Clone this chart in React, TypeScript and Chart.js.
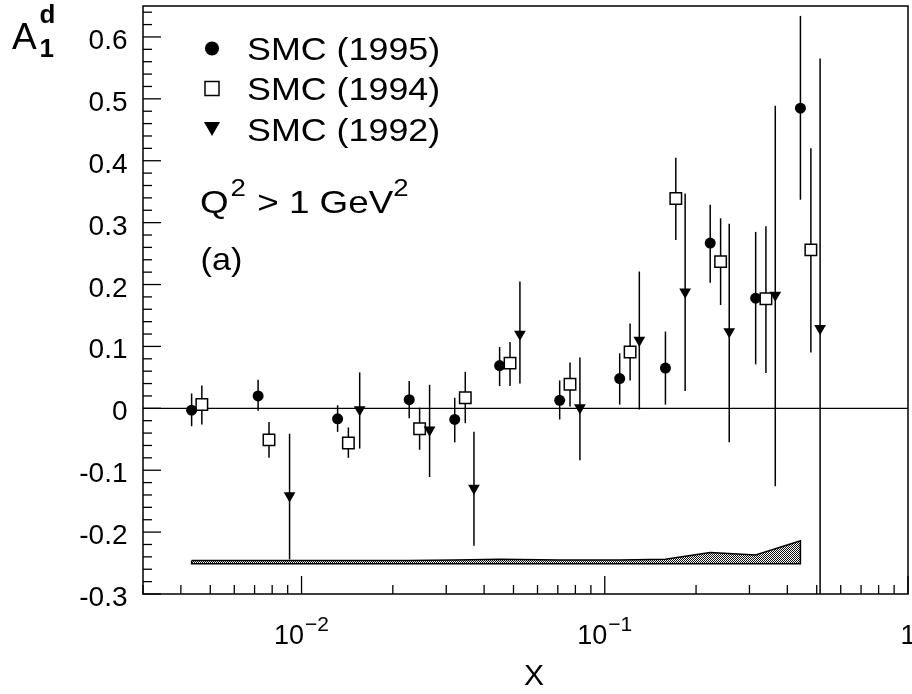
import React, { useEffect, useRef } from 'react';
import { Chart, registerables } from 'chart.js';

Chart.register(...registerables);

// ---- Data ----
const x1995 = [0.00434, 0.00719, 0.01315, 0.02265, 0.032, 0.045, 0.071, 0.112, 0.1585, 0.2227, 0.3145, 0.4418];
const y1995 = [-0.003, 0.020, -0.017, 0.014, -0.018, 0.069, 0.013, 0.048, 0.065, 0.267, 0.178, 0.485];
const lo1995 = [-0.029, -0.004, -0.038, -0.016, -0.055, 0.036, -0.018, 0.006, 0.006, 0.203, 0.071, 0.337];
const hi1995 = [0.024, 0.046, 0.005, 0.044, 0.017, 0.099, 0.045, 0.089, 0.124, 0.329, 0.285, 0.634];

const x1994 = [0.00469, 0.00781, 0.01427, 0.02451, 0.03467, 0.0487, 0.0768, 0.1212, 0.1715, 0.241, 0.340, 0.4783];
const y1994 = [0.006, -0.051, -0.056, -0.033, 0.017, 0.073, 0.039, 0.091, 0.339, 0.237, 0.177, 0.256];
const lo1994 = [-0.026, -0.080, -0.080, -0.067, -0.024, 0.036, 0.003, 0.045, 0.272, 0.167, 0.057, 0.090];
const hi1994 = [0.037, -0.022, -0.031, 0.001, 0.059, 0.107, 0.074, 0.137, 0.405, 0.307, 0.294, 0.420];

const x1992 = [0.00913, 0.01555, 0.02644, 0.03703, 0.0525, 0.0828, 0.130, 0.1841, 0.2573, 0.365, 0.513];
const y1992 = [-0.141, -0.002, -0.035, -0.129, 0.120, 0.001, 0.110, 0.188, 0.124, 0.183, 0.129];
const lo1992 = [-0.244, -0.065, -0.111, -0.222, 0.040, -0.084, -0.002, 0.028, -0.055, -0.126, -0.32];
const hi1992 = [-0.041, 0.058, 0.038, -0.038, 0.205, 0.082, 0.221, 0.347, 0.298, 0.489, 0.565];

// systematic error band
const bandX = [0.00434, 0.00719, 0.01315, 0.02265, 0.032, 0.045, 0.071, 0.112, 0.1585, 0.2227, 0.3145, 0.4418];
const bandTop = [-0.246, -0.246, -0.246, -0.246, -0.245, -0.244, -0.245, -0.245, -0.244, -0.233, -0.237, -0.214];
const bandBottom = [-0.251, -0.251, -0.251, -0.251, -0.251, -0.251, -0.251, -0.251, -0.251, -0.251, -0.251, -0.251];

const yTickValues = [-0.3, -0.2, -0.1, 0, 0.1, 0.2, 0.3, 0.4, 0.5, 0.6];
const yTickLabels = ['-0.3', '-0.2', '-0.1', '0', '0.1', '0.2', '0.3', '0.4', '0.5', '0.6'];
const xTickValues = [0.01, 0.1, 1];
const xTickBase = ['10', '10', '1'];
const xTickExp = ['\u22122', '\u22121', ''];

const legendLabels = ['SMC (1995)', 'SMC (1994)', 'SMC (1992)'];

const X_MIN = 0.003;
const X_MAX = 1;
const Y_MIN = -0.3;
const Y_MAX = 0.65;

const FONT = '"Liberation Sans", Arial, Helvetica, sans-serif';

function makePattern(): CanvasPattern | string {
  const c = document.createElement('canvas');
  c.width = 2;
  c.height = 2;
  const g = c.getContext('2d');
  if (!g) return '#777';
  g.fillStyle = '#fff';
  g.fillRect(0, 0, 2, 2);
  g.fillStyle = '#111';
  g.fillRect(0, 0, 1, 1);
  g.fillRect(1, 1, 1, 1);
  const p = g.createPattern(c, 'repeat');
  return p || '#777';
}

// draws text stretched horizontally by sx; returns advance width
function textX(ctx: CanvasRenderingContext2D, t: string, x: number, y: number, sx: number): number {
  ctx.save();
  ctx.translate(x, y);
  ctx.scale(sx, 1);
  ctx.fillText(t, 0, 0);
  const w = ctx.measureText(t).width * sx;
  ctx.restore();
  return w;
}

const overlayPlugin = {
  id: 'overlayPlugin',
  beforeDatasetsDraw(chart: any) {
    const { ctx, chartArea: a, scales } = chart;
    const xs = scales.x;
    const ys = scales.y;
    ctx.save();
    ctx.beginPath();
    ctx.rect(a.left, a.top, a.right - a.left, a.bottom - a.top);
    ctx.clip();
    ctx.strokeStyle = '#000';
    ctx.lineWidth = 1.2;
    const y0 = ys.getPixelForValue(0);
    ctx.beginPath();
    ctx.moveTo(a.left, y0);
    ctx.lineTo(a.right, y0);
    ctx.stroke();
    ctx.lineWidth = 1.5;
    chart.data.datasets.forEach((ds: any) => {
      if (!ds.errorBars) return;
      ds.data.forEach((p: any) => {
        const px = xs.getPixelForValue(p.x);
        ctx.beginPath();
        ctx.moveTo(px, ys.getPixelForValue(p.lo));
        ctx.lineTo(px, ys.getPixelForValue(p.hi));
        ctx.stroke();
      });
    });
    ctx.restore();
  },
  afterDraw(chart: any) {
    const { ctx, chartArea: a, scales } = chart;
    const xs = scales.x;
    const ys = scales.y;
    ctx.save();
    ctx.strokeStyle = '#000';
    ctx.fillStyle = '#000';

    // frame
    ctx.lineWidth = 1.5;
    ctx.strokeRect(a.left, a.top, a.right - a.left, a.bottom - a.top);

    // y ticks (inside, on left axis)
    ctx.lineWidth = 1.3;
    for (let k = 0; k <= 47; k++) {
      const v = Y_MIN + k * 0.02;
      if (v > Y_MAX + 1e-9) break;
      const major = Math.abs(v * 10 - Math.round(v * 10)) < 1e-6;
      const py = ys.getPixelForValue(v);
      ctx.beginPath();
      ctx.moveTo(a.left, py);
      ctx.lineTo(a.left + (major ? 18 : 9), py);
      ctx.stroke();
    }
    // x ticks (inside, on bottom axis)
    [0.001, 0.01, 0.1, 1].forEach((dec) => {
      for (let m = 1; m <= 9; m++) {
        const v = dec * m;
        if (v < X_MIN - 1e-12 || v > X_MAX + 1e-12) continue;
        const px = xs.getPixelForValue(v);
        ctx.beginPath();
        ctx.moveTo(px, a.bottom);
        ctx.lineTo(px, a.bottom - (m === 1 ? 18 : 9));
        ctx.stroke();
      }
    });

    // y tick labels
    ctx.font = `28px ${FONT}`;
    ctx.textAlign = 'right';
    ctx.textBaseline = 'alphabetic';
    yTickValues.forEach((v, i) => {
      ctx.fillText(yTickLabels[i], 127.5, ys.getPixelForValue(v) + 12);
    });

    // x tick labels
    ctx.textAlign = 'left';
    xTickValues.forEach((v, i) => {
      const px = xs.getPixelForValue(v);
      ctx.font = `27px ${FONT}`;
      const bw = ctx.measureText(xTickBase[i]).width;
      ctx.font = `21px ${FONT}`;
      const ew = xTickExp[i] ? ctx.measureText(xTickExp[i]).width + 1 : 0;
      const start = px - (bw + ew) / 2;
      ctx.font = `27px ${FONT}`;
      ctx.fillText(xTickBase[i], start, 644);
      if (xTickExp[i]) {
        ctx.font = `21px ${FONT}`;
        ctx.fillText(xTickExp[i], start + bw + 1, 631);
      }
    });

    // x title
    ctx.font = `30px ${FONT}`;
    ctx.textAlign = 'center';
    ctx.fillText('X', 534, 685);

    // y title A_1^d
    ctx.textAlign = 'left';
    ctx.font = `37px ${FONT}`;
    ctx.fillText('A', 12, 48.5);
    ctx.font = `bold 26px ${FONT}`;
    ctx.fillText('d', 39.5, 22.5);
    ctx.fillText('1', 39.5, 57);

    // legend
    const rows = [48.5, 88.5, 128.5];
    const mx = 212;
    ctx.beginPath();
    ctx.arc(mx, rows[0], 7, 0, Math.PI * 2);
    ctx.fill();
    ctx.fillStyle = '#fff';
    ctx.fillRect(mx - 7, rows[1] - 7, 14, 14);
    ctx.fillStyle = '#000';
    ctx.lineWidth = 1.5;
    ctx.strokeRect(mx - 7, rows[1] - 7, 14, 14);
    ctx.beginPath();
    ctx.moveTo(mx - 8, rows[2] - 6.5);
    ctx.lineTo(mx + 8, rows[2] - 6.5);
    ctx.lineTo(mx, rows[2] + 7.5);
    ctx.closePath();
    ctx.fill();

    ctx.font = `32px ${FONT}`;
    const baselines = [59.5, 100, 140.5];
    legendLabels.forEach((t, i) => textX(ctx, t, 247, baselines[i], 1.12));

    // Q^2 > 1 GeV^2
    const SX = 1.15;
    let qx = 200;
    ctx.font = `32px ${FONT}`;
    qx += textX(ctx, 'Q', qx, 212.5, SX) + 2;
    ctx.font = `24px ${FONT}`;
    qx += textX(ctx, '2', qx, 196, SX) + 1;
    ctx.font = `32px ${FONT}`;
    qx += textX(ctx, ' > 1 GeV', qx, 212.5, SX);
    ctx.font = `24px ${FONT}`;
    textX(ctx, '2', qx, 196, SX);

    // (a)
    ctx.font = `32px ${FONT}`;
    textX(ctx, '(a)', 200.5, 269.5, 1.07);

    ctx.restore();
  },
};

function toPoints(xv: number[], yv: number[], lo: number[], hi: number[]) {
  return xv.map((v, i) => ({ x: v, y: yv[i], lo: lo[i], hi: hi[i] }));
}

export default function App() {
  const ref = useRef<HTMLCanvasElement | null>(null);

  useEffect(() => {
    if (!ref.current) return;
    const bandPoly = [
      ...bandX.map((v, i) => ({ x: v, y: bandTop[i] })),
      ...bandX.map((v, i) => ({ x: v, y: bandBottom[i] })).reverse(),
      { x: bandX[0], y: bandTop[0] },
    ];
    const chart = new Chart(ref.current, {
      type: 'scatter',
      data: {
        datasets: [
          {
            type: 'line',
            label: 'syst',
            data: bandPoly,
            borderColor: '#000',
            borderWidth: 1.5,
            backgroundColor: makePattern() as any,
            fill: 'shape',
            pointRadius: 0,
            tension: 0,
          } as any,
          {
            label: legendLabels[2],
            data: toPoints(x1992, y1992, lo1992, hi1992),
            errorBars: true,
            pointStyle: 'triangle',
            rotation: 180,
            pointRadius: 6.8,
            backgroundColor: '#000',
            borderColor: '#000',
            borderWidth: 0,
          } as any,
          {
            label: legendLabels[1],
            data: toPoints(x1994, y1994, lo1994, hi1994),
            errorBars: true,
            pointStyle: 'rect',
            pointRadius: 8.1,
            backgroundColor: '#fff',
            borderColor: '#000',
            borderWidth: 1.5,
          } as any,
          {
            label: legendLabels[0],
            data: toPoints(x1995, y1995, lo1995, hi1995),
            errorBars: true,
            pointStyle: 'circle',
            pointRadius: 5.5,
            backgroundColor: '#000',
            borderColor: '#000',
            borderWidth: 0,
          } as any,
        ],
      },
      options: {
        responsive: false,
        animation: false,
        events: [],
        layout: { autoPadding: false, padding: { left: 143, right: 4, top: 6, bottom: 100 } },
        plugins: {
          legend: { display: false },
          tooltip: { enabled: false },
          title: { display: false },
        },
        scales: {
          x: { type: 'logarithmic', min: X_MIN, max: X_MAX, display: false },
          y: { type: 'linear', min: Y_MIN, max: Y_MAX, display: false },
        },
      },
      plugins: [overlayPlugin],
    });
    return () => chart.destroy();
  }, []);

  return (
    <div style={{ position: 'fixed', left: 0, top: 0, width: 912, height: 694, background: '#fff' }}>
      <canvas ref={ref} width={912} height={694} style={{ display: 'block' }} />
    </div>
  );
}
